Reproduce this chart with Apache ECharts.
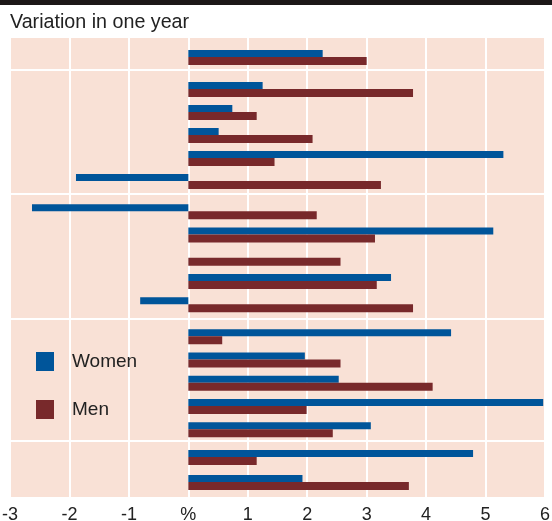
<!DOCTYPE html>
<html>
<head>
<meta charset="utf-8">
<script src="https://cdn.jsdelivr.net/npm/echarts@6/dist/echarts.min.js"></script>
<style>
  html, body { margin: 0; padding: 0; background: #fff; }
  #chart { width: 552px; height: 521px; }
</style>
</head>
<body>
<div id="chart"></div>
<script>
// rows top to bottom (no labels in the original)
const rows = ['r1', 'r2', 'r3', 'r4', 'r5', 'r6', 'r7', 'r8', 'r9', 'r10', 'r11', 'r12', 'r13', 'r14', 'r15', 'r16', 'r17', 'r18']
const sectionSizes = [1, 5, 5, 5, 2] // rows per block between the white separators
const women = [2.26, 1.25, 0.74, 0.51, 5.30, -1.89, -2.63, 5.13, 0, 3.41, -0.81, 4.42, 1.96, 2.53, 5.97, 3.07, 4.79, 1.92]
const men = [3.0, 3.78, 1.15, 2.09, 1.45, 3.24, 2.16, 3.14, 2.56, 3.17, 3.78, 0.57, 2.56, 4.11, 1.99, 2.43, 1.15, 3.71]
const xMin = -3
const xMax = 6
const xStep = 1

// layout of each block: [top, height, separator offset above]
const blockBoxes = [[45.9, 23.3, 0], [78, 115, 8], [200, 116.3, 6], [325, 116.3, 6.7], [445, 50, 4.7]]

const BLUE = '#00559a'
const RED = '#78292b'
const PINK = '#f9e1d6'
const TEXT = '#222'
const FONT = 'Liberation Sans, Arial, sans-serif'
const LEFT = 10
const RIGHT = 7

const grid = [{
  left: LEFT, right: RIGHT, top: 38, bottom: 24,
  outerBoundsMode: 'none',
  show: true, backgroundColor: PINK, borderWidth: 0
}]
const xAxis = [{
  gridIndex: 0,
  type: 'value',
  min: xMin,
  max: xMax,
  interval: xStep,
  axisLine: { show: false },
  axisTick: { show: false },
  splitLine: { lineStyle: { color: '#fff', width: 2 } },
  axisLabel: {
    margin: 9,
    fontSize: 18,
    color: TEXT,
    fontFamily: FONT,
    formatter: v => (v === 0 ? '%' : String(v))
  }
}]
const yAxis = [{ gridIndex: 0, type: 'value', show: false }]
const series = []

let start = 0
sectionSizes.forEach((size, i) => {
  const box = blockBoxes[i]
  const gi = i + 1
  grid.push({ left: LEFT, right: RIGHT, top: box[0], height: box[1], outerBoundsMode: 'none' })
  xAxis.push({
    gridIndex: gi,
    type: 'value',
    min: xMin,
    max: xMax,
    position: 'top',
    offset: box[2],
    axisLine: { show: i > 0, onZero: false, lineStyle: { color: '#fff', width: 2 } },
    axisTick: { show: false },
    axisLabel: { show: false },
    splitLine: { show: false }
  })
  yAxis.push({
    gridIndex: gi,
    type: 'category',
    inverse: true,
    show: false,
    data: rows.slice(start, start + size)
  })
  series.push({
    name: 'Women',
    type: 'bar',
    xAxisIndex: gi,
    yAxisIndex: gi,
    barWidth: 7,
    barGap: '0%',
    itemStyle: { color: BLUE },
    data: women.slice(start, start + size)
  })
  series.push({
    name: 'Men',
    type: 'bar',
    xAxisIndex: gi,
    yAxisIndex: gi,
    barWidth: 8,
    barGap: '0%',
    itemStyle: { color: RED },
    data: men.slice(start, start + size)
  })
  start += size
})

const chart = echarts.init(document.getElementById('chart'))
chart.setOption({
  animation: false,
  backgroundColor: '#fff',
  title: {
    text: 'Variation in one year',
    left: 10,
    top: 13,
    padding: 0,
    textStyle: { fontSize: 19.7, fontWeight: 'normal', color: TEXT, fontFamily: FONT }
  },
  legend: {
    data: [{ name: 'Women', icon: 'rect' }, { name: 'Men', icon: 'rect' }],
    orient: 'vertical',
    left: 36,
    top: 352,
    padding: 0,
    itemWidth: 18,
    itemHeight: 19,
    itemGap: 29,
    selectedMode: false,
    textStyle: { fontSize: 19, lineHeight: 19, color: TEXT, fontFamily: FONT, padding: [0, 0, 0, 13] }
  },
  graphic: [{
    type: 'rect',
    left: 0,
    top: 0,
    shape: { width: 552, height: 5 },
    style: { fill: '#1c1717' }
  }],
  grid,
  xAxis,
  yAxis,
  series
})
</script>
</body>
</html>
